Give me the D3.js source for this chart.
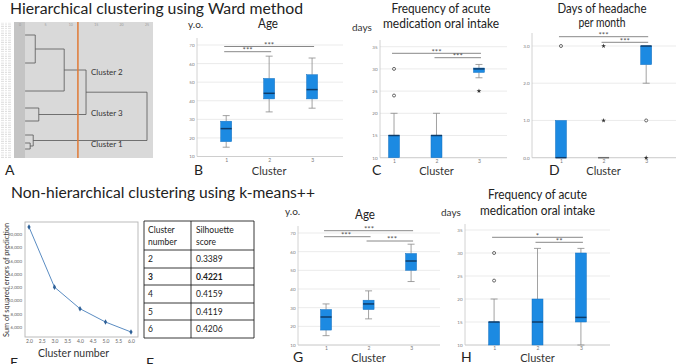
<!DOCTYPE html>
<html>
<head>
<meta charset="utf-8">
<script src="https://cdn.jsdelivr.net/npm/d3@7"></script>
<style>
  body { margin: 0; background: #fff; }
  svg { display: block; }
</style>
</head>
<body>
<div id="chart"></div>
<script>
// ---------- data ----------
const clusters = [1, 2, 3];

// box stats per cluster: [lower whisker, Q1, median, Q3, upper whisker]
const wardAge = [[15, 18, 25, 29, 32], [34, 41, 44, 52, 64], [36, 41, 46, 54, 63]];
const wardMed = [[10, 10, 15, 15, 20], [10, 10, 15, 15, 20], [28, 29.2, 30, 30.2, 31]];
const wardHeadache = [[0, 0, 0, 1, 1], [0, 0, 0, 0, 0], [2, 2.5, 3, 3, 3]];
const kmAge = [[15, 18, 25, 29, 32], [24, 29, 32, 34, 39], [44, 50, 55, 59, 64]];
const kmMed = [[10, 10, 15, 15, 20], [10, 10, 15, 20, 31], [10, 15, 16, 30, 31]];

// outliers: [cluster, value, kind]  (o = outlier, * = extreme)
const wardMedOutliers = [[1, 30, 'o'], [1, 24, 'o'], [3, 25, '*']];
const wardHeadacheOutliers = [[1, 3, 'o'], [2, 3, '*'], [2, 1, '*'], [3, 1, 'o'], [3, 0, '*']];
const kmMedOutliers = [[1, 30, 'o'], [1, 24, 'o']];

// significance brackets: [from cluster, to cluster, stars]
const wardAgeSig = [[1, 3, '***'], [1, 2, '***']];
const wardMedSig = [[1, 3, '***'], [2, 3, '***']];
const wardHeadacheSig = [[1, 3, '***'], [2, 3, '***']];
const kmAgeSig = [[1, 3, '***'], [1, 2, '***'], [2, 3, '***']];
const kmMedSig = [[1, 3, '*'], [2, 3, '**']];

const ageTicks = [10, 20, 30, 40, 50, 60, 70];
const medTicks = [10, 15, 20, 25, 30, 35];
const headacheTicks = [0, 1, 2, 3];

// elbow plot (k-means++)
const elbowK = [2, 3, 4, 5, 6];
const elbowSSE = [21050, 12000, 8750, 6750, 5250];
const elbowXTicks = [2.0, 2.5, 3.0, 3.5, 4.0, 4.5, 5.0, 5.5, 6.0];
const elbowYTicks = [6000, 8000, 10000, 12000, 14000, 16000, 18000, 20000];

// silhouette table
const silK = ['2', '3', '4', '5', '6'];
const silScore = ['0.3389', '0.4221', '0.4159', '0.4119', '0.4206'];
const silBest = '3';

// dendrogram merges: [height, top child leaf pos, top child height, bottom child leaf pos, bottom child height]
const dendroMerges = [
  [3.0, 6.5, 1, 20.5, 1],
  [8.7, 13.5, 3.0, 34.5, 1],
  [3.7, 43, 1, 49.5, 1],
  [13.0, 24, 8.7, 46.25, 3.7],
  [2.0, 60.5, 1, 63.5, 1],
  [2.6, 56.5, 1, 62, 2.0],
  [25, 35.1, 13.0, 59.25, 2.6]
];
const dendroLabels = [['Cluster 2', 25], ['Cluster 3', 45.5], ['Cluster 1', 61]];
const dendroCut = 11.4;
const dendroTicks = [0, 5, 10, 15, 20, 25];

// ---------- drawing ----------
const FONT = 'Lato, "Open Sans", sans-serif';
const BOX = '#1c8ae2';
const MEDIAN = '#0e3c6a';

const svg = d3.select('#chart').append('svg')
  .attr('width', 676).attr('height', 364)
  .attr('font-family', FONT);

function text(str, x, y, size, opt = {}) {
  const t = svg.append('text')
    .attr('x', x).attr('y', y)
    .attr('font-size', size)
    .attr('fill', opt.fill || '#222')
    .attr('text-anchor', opt.anchor || 'start')
    .text(str);
  if (opt.len) t.attr('textLength', opt.len).attr('lengthAdjust', 'spacingAndGlyphs');
  if (opt.weight) t.attr('font-weight', opt.weight);
  return t;
}

// section titles
text('Hierarchical clustering using Ward method', 10, 13.5, 15.5, { len: 293 });
text('Non-hierarchical clustering using k-means++', 11, 198, 15.5, { len: 304 });

// ---- A: dendrogram ----
(function dendrogram() {
  const dx = d3.scaleLinear().domain([0, 25]).range([20, 147]);
  const dy = d3.scaleLinear().domain([0, 68]).range([22, 158]);
  const g = svg.append('g');

  const defs = svg.append('defs');
  const hatch = defs.append('pattern').attr('id', 'leafHatch')
    .attr('patternUnits', 'userSpaceOnUse').attr('width', 11).attr('height', 2);
  hatch.append('rect').attr('width', 11).attr('height', 2).attr('fill', '#d2d2d2');
  hatch.append('line').attr('x1', 0).attr('x2', 11).attr('y1', 1).attr('y2', 1)
    .attr('stroke', '#a8a8a8').attr('stroke-width', 0.7);
  const labHatch = defs.append('pattern').attr('id', 'leafLabels')
    .attr('patternUnits', 'userSpaceOnUse').attr('width', 13).attr('height', 2.3);
  labHatch.append('line').attr('x1', 1).attr('x2', 11).attr('y1', 1).attr('y2', 1)
    .attr('stroke', '#d4d4d4').attr('stroke-width', 0.8).attr('stroke-dasharray', '3 1 2 1');

  g.append('rect').attr('x', 0).attr('y', dy(0)).attr('width', 13).attr('height', dy(68) - dy(0))
    .attr('fill', 'url(#leafLabels)');
  g.append('rect').attr('x', 14).attr('y', dy(0)).attr('width', 139).attr('height', dy(68) - dy(0))
    .attr('fill', '#d9d9d9');
  g.append('rect').attr('x', 14).attr('y', dy(0)).attr('width', 11).attr('height', dy(68) - dy(0))
    .attr('fill', 'url(#leafHatch)');

  g.selectAll('.dtick').data(dendroTicks).enter().append('text')
    .attr('x', d => dx(d)).attr('y', dy(0) + 3.5)
    .attr('text-anchor', 'middle').attr('font-size', 3.5).attr('fill', '#999')
    .text(d => d);

  g.selectAll('.merge').data(dendroMerges).enter().append('path')
    .attr('fill', 'none').attr('stroke', '#555').attr('stroke-width', 0.8)
    .attr('d', d => `M${dx(d[2])},${dy(d[1])}H${dx(d[0])}V${dy(d[3])}H${dx(d[4])}`);

  g.append('line')
    .attr('x1', dx(dendroCut)).attr('x2', dx(dendroCut))
    .attr('y1', dy(0)).attr('y2', dy(68))
    .attr('stroke', '#e07a36').attr('stroke-width', 1.5);

  g.selectAll('.dlab').data(dendroLabels).enter().append('text')
    .attr('x', 91).attr('y', d => dy(d[1]) + 3)
    .attr('font-size', 8).attr('fill', '#333')
    .text(d => d[0]);

  text('A', 5, 175, 14);
})();

// ---- box plot panels ----
function boxPanel(p) {
  const x = d3.scaleLinear().domain(p.xDomain).range(p.xRange);
  const y = d3.scaleLinear().domain(p.yDomain).range(p.yRange);
  const [x0, x1] = p.xRange;
  const base = p.yRange[0];
  const g = svg.append('g');

  g.selectAll('.grid').data(p.yTicks).enter().append('line')
    .attr('x1', x0).attr('x2', x1)
    .attr('y1', d => y(d)).attr('y2', d => y(d))
    .attr('stroke', '#e3e3e3').attr('stroke-width', 0.7);

  g.append('line').attr('x1', x0).attr('x2', x0).attr('y1', p.axisTop).attr('y2', base)
    .attr('stroke', '#c6c6c6').attr('stroke-width', 0.8);
  g.append('line').attr('x1', x0).attr('x2', x1).attr('y1', base).attr('y2', base)
    .attr('stroke', '#c6c6c6').attr('stroke-width', 0.8);

  const yAxis = g.append('g').attr('transform', `translate(${x0},0)`)
    .call(d3.axisLeft(y).tickValues(p.yTicks).tickSize(0).tickPadding(2.5));
  yAxis.select('.domain').remove();
  yAxis.attr('font-size', 4.5).attr('font-family', FONT);
  yAxis.selectAll('text').attr('fill', '#777');

  const xAxis = g.append('g').attr('transform', `translate(0,${base})`)
    .call(d3.axisBottom(x).tickValues(clusters).tickFormat(d3.format('d')).tickSize(0).tickPadding(1.5));
  xAxis.select('.domain').remove();
  xAxis.attr('font-size', 5).attr('font-family', FONT);
  xAxis.selectAll('text').attr('fill', '#777');

  const boxW = 11, capW = 7;
  const cx = (d, i) => x(clusters[i]);

  // whiskers
  g.selectAll('.wlo').data(p.stats).enter().append('line')
    .attr('x1', cx).attr('x2', cx)
    .attr('y1', d => y(d[0])).attr('y2', d => y(d[1]))
    .attr('stroke', '#8a8a8a').attr('stroke-width', 0.8);
  g.selectAll('.whi').data(p.stats).enter().append('line')
    .attr('x1', cx).attr('x2', cx)
    .attr('y1', d => y(d[3])).attr('y2', d => y(d[4]))
    .attr('stroke', '#8a8a8a').attr('stroke-width', 0.8);
  g.selectAll('.caplo').data(p.stats.filter(d => d[0] < d[1])).enter().append('line')
    .attr('x1', d => x(clusters[p.stats.indexOf(d)]) - capW / 2)
    .attr('x2', d => x(clusters[p.stats.indexOf(d)]) + capW / 2)
    .attr('y1', d => y(d[0])).attr('y2', d => y(d[0]))
    .attr('stroke', '#8a8a8a').attr('stroke-width', 0.8);
  g.selectAll('.caphi').data(p.stats.filter(d => d[4] > d[3])).enter().append('line')
    .attr('x1', d => x(clusters[p.stats.indexOf(d)]) - capW / 2)
    .attr('x2', d => x(clusters[p.stats.indexOf(d)]) + capW / 2)
    .attr('y1', d => y(d[4])).attr('y2', d => y(d[4]))
    .attr('stroke', '#8a8a8a').attr('stroke-width', 0.8);

  // boxes
  g.selectAll('.box').data(p.stats).enter().append('rect')
    .attr('x', (d, i) => cx(d, i) - boxW / 2)
    .attr('y', d => y(d[3]))
    .attr('width', boxW)
    .attr('height', d => y(d[1]) - y(d[3]))
    .attr('fill', BOX).attr('stroke', '#1570bf').attr('stroke-width', 0.5);
  g.selectAll('.median').data(p.stats).enter().append('line')
    .attr('x1', (d, i) => cx(d, i) - boxW / 2)
    .attr('x2', (d, i) => cx(d, i) + boxW / 2)
    .attr('y1', d => y(d[2])).attr('y2', d => y(d[2]))
    .attr('stroke', (d) => d[1] === d[3] ? '#6d6d6d' : MEDIAN).attr('stroke-width', 1.5);

  // outliers
  const outs = p.outliers || [];
  g.selectAll('.out').data(outs.filter(d => d[2] === 'o')).enter().append('circle')
    .attr('cx', d => x(d[0])).attr('cy', d => y(d[1])).attr('r', 1.5)
    .attr('fill', '#fff').attr('stroke', '#444').attr('stroke-width', 0.8);
  g.selectAll('.ext').data(outs.filter(d => d[2] === '*')).enter().append('path')
    .attr('transform', d => `translate(${x(d[0])},${y(d[1])})`)
    .attr('d', d3.symbol().type(d3.symbolStar).size(7))
    .attr('fill', '#333');

  // significance brackets
  g.selectAll('.sig').data(p.sig).enter().append('line')
    .attr('x1', d => x(d[0]) - 2).attr('x2', d => x(d[1]) + 2)
    .attr('y1', (d, i) => p.sigY[i]).attr('y2', (d, i) => p.sigY[i])
    .attr('stroke', '#6a6a6a').attr('stroke-width', 0.8);
  g.selectAll('.stars').data(p.sig).enter().append('text')
    .attr('x', (d, i) => p.starX ? p.starX[i] : (x(d[0]) + x(d[1])) / 2)
    .attr('y', (d, i) => p.sigY[i] + 1.2)
    .attr('text-anchor', 'middle').attr('font-size', 8).attr('fill', '#555')
    .text(d => d[2]);

  // titles and labels
  p.title.forEach((t, i) => text(t, p.titleX, p.titleY[i], p.titleSize, { anchor: 'middle', len: p.titleLen[i] }));
  if (p.unit) text(p.unit, p.unitX, p.unitY, 10, { fill: '#333' });
  text('Cluster', (x(1) + x(3)) / 2, p.labelY, 11, { anchor: 'middle', fill: '#333' });
  text(p.letter, p.letterX, p.letterY, 14);
}

// B
boxPanel({
  stats: wardAge, sig: wardAgeSig, sigY: [46.5, 51.7], yTicks: ageTicks,
  xDomain: [0.32, 3.72], xRange: [197, 343], yDomain: [10, 70], yRange: [156.5, 45], axisTop: 38,
  title: ['Age'], titleX: 268, titleY: [28], titleSize: 12.5, titleLen: [20],
  unit: 'y.o.', unitX: 188, unitY: 28, labelY: 174.5, letter: 'B', letterX: 194, letterY: 175
});
// C
boxPanel({
  stats: wardMed, outliers: wardMedOutliers, sig: wardMedSig, sigY: [53.3, 57.7], yTicks: medTicks,
  xDomain: [0.67, 3.66], xRange: [380, 507], yDomain: [10, 35], yRange: [157.7, 46.7], axisTop: 40,
  title: ['Frequency of acute', 'medication oral intake'], titleX: 441, titleY: [13, 28], titleSize: 12.5, titleLen: [99, 116],
  unit: 'days', unitX: 352, unitY: 31, labelY: 174.5, letter: 'C', letterX: 372, letterY: 175
});
// D
boxPanel({
  stats: wardHeadache, outliers: wardHeadacheOutliers, sig: wardHeadacheSig, sigY: [36.7, 42.3], yTicks: headacheTicks,
  xDomain: [0.32, 3.7], xRange: [532, 676], yDomain: [0, 3], yRange: [157.7, 46], axisTop: 33,
  title: ['Days of headache', 'per month'], titleX: 602, titleY: [13, 27], titleSize: 12.5, titleLen: [89, 47],
  unit: '', unitX: 0, unitY: 0, labelY: 174.5, letter: 'D', letterX: 549, letterY: 175
});
// G
boxPanel({
  stats: kmAge, sig: kmAgeSig, sigY: [230.7, 236.7, 241], yTicks: ageTicks, starX: [369, 346, 392],
  xDomain: [0.34, 3.68], xRange: [298, 440], yDomain: [10, 70], yRange: [345, 233], axisTop: 226,
  title: ['Age'], titleX: 365, titleY: [219], titleSize: 13, titleLen: [20],
  unit: 'y.o.', unitX: 285, unitY: 215, labelY: 361.5, letter: 'G', letterX: 293, letterY: 361.5
});
// H
boxPanel({
  stats: kmMed, outliers: kmMedOutliers, sig: kmMedSig, sigY: [237.3, 242.3], yTicks: medTicks,
  xDomain: [0.33, 3.67], xRange: [465, 610], yDomain: [10, 35], yRange: [345, 230], axisTop: 224,
  title: ['Frequency of acute', 'medication oral intake'], titleX: 537.5, titleY: [199, 215], titleSize: 12.5, titleLen: [99, 115],
  unit: 'days', unitX: 441, unitY: 216, labelY: 361.5, letter: 'H', letterX: 461, letterY: 361.5
});

// ---- E: elbow plot ----
(function elbow() {
  const x = d3.scaleLinear().domain([2, 6]).range([29, 131]);
  const y = d3.scaleLinear().domain([6000, 20000]).range([327, 234]);
  const g = svg.append('g');

  g.append('rect').attr('x', 25).attr('y', 222).attr('width', 113).attr('height', 115)
    .attr('fill', 'none').attr('stroke', '#b4b4b4').attr('stroke-width', 0.9);

  const yAxis = g.append('g').attr('transform', 'translate(25,0)')
    .call(d3.axisLeft(y).tickValues(elbowYTicks).tickSize(0).tickPadding(3));
  yAxis.select('.domain').remove();
  yAxis.attr('font-size', 4.5).attr('font-family', FONT);
  yAxis.selectAll('text').attr('fill', '#666');

  const xAxis = g.append('g').attr('transform', 'translate(0,337)')
    .call(d3.axisBottom(x).tickValues(elbowXTicks).tickFormat(d3.format('.1f')).tickSize(0).tickPadding(2.5));
  xAxis.select('.domain').remove();
  xAxis.attr('font-size', 5).attr('font-family', FONT);
  xAxis.selectAll('text').attr('fill', '#666');

  const pts = elbowK.map((k, i) => [k, elbowSSE[i]]);
  g.append('path').datum(pts)
    .attr('fill', 'none').attr('stroke', '#5a8cc2').attr('stroke-width', 1)
    .attr('d', d3.line().x(d => x(d[0])).y(d => y(d[1])));
  g.selectAll('.pt').data(pts).enter().append('path')
    .attr('transform', d => `translate(${x(d[0])},${y(d[1])})`)
    .attr('d', d3.symbol().type(d3.symbolDiamond).size(9))
    .attr('fill', '#2f6198');

  svg.append('text')
    .attr('transform', 'translate(8.5,280) rotate(-90)')
    .attr('text-anchor', 'middle').attr('font-size', 7.5).attr('fill', '#333')
    .attr('textLength', 114).attr('lengthAdjust', 'spacingAndGlyphs')
    .text('Sum of squared errors of prediction');

  text('Cluster number', 73.5, 357, 12, { anchor: 'middle', fill: '#333', len: 71 });
  text('E', 10, 368, 14);
})();

// ---- F: silhouette table ----
(function table() {
  const colX = [144, 191, 254];
  const rowY = [221, 250, 268, 285, 303, 320, 338];
  const g = svg.append('g');

  g.selectAll('.hl').data(rowY).enter().append('line')
    .attr('x1', colX[0]).attr('x2', colX[2])
    .attr('y1', d => d).attr('y2', d => d)
    .attr('stroke', '#222').attr('stroke-width', 0.9);
  g.selectAll('.vl').data(colX).enter().append('line')
    .attr('x1', d => d).attr('x2', d => d)
    .attr('y1', rowY[0]).attr('y2', rowY[rowY.length - 1])
    .attr('stroke', '#222').attr('stroke-width', 0.9);

  text('Cluster', 148, 233, 8.5);
  text('number', 148, 244.5, 8.5);
  text('Silhouette', 196, 233, 8.5);
  text('score', 196, 244.5, 8.5);

  g.selectAll('.k').data(silK).enter().append('text')
    .attr('x', 148).attr('y', (d, i) => (rowY[i + 1] + rowY[i + 2]) / 2 + 3)
    .attr('font-size', 8.5).attr('fill', '#222')
    .attr('font-weight', d => d === silBest ? 'bold' : null)
    .text(d => d);
  g.selectAll('.s').data(silScore).enter().append('text')
    .attr('x', 196).attr('y', (d, i) => (rowY[i + 1] + rowY[i + 2]) / 2 + 3)
    .attr('font-size', 8.5).attr('fill', '#222')
    .attr('font-weight', (d, i) => silK[i] === silBest ? 'bold' : null)
    .text(d => d);

  text('F', 146, 368, 14);
})();
</script>
</body>
</html>
